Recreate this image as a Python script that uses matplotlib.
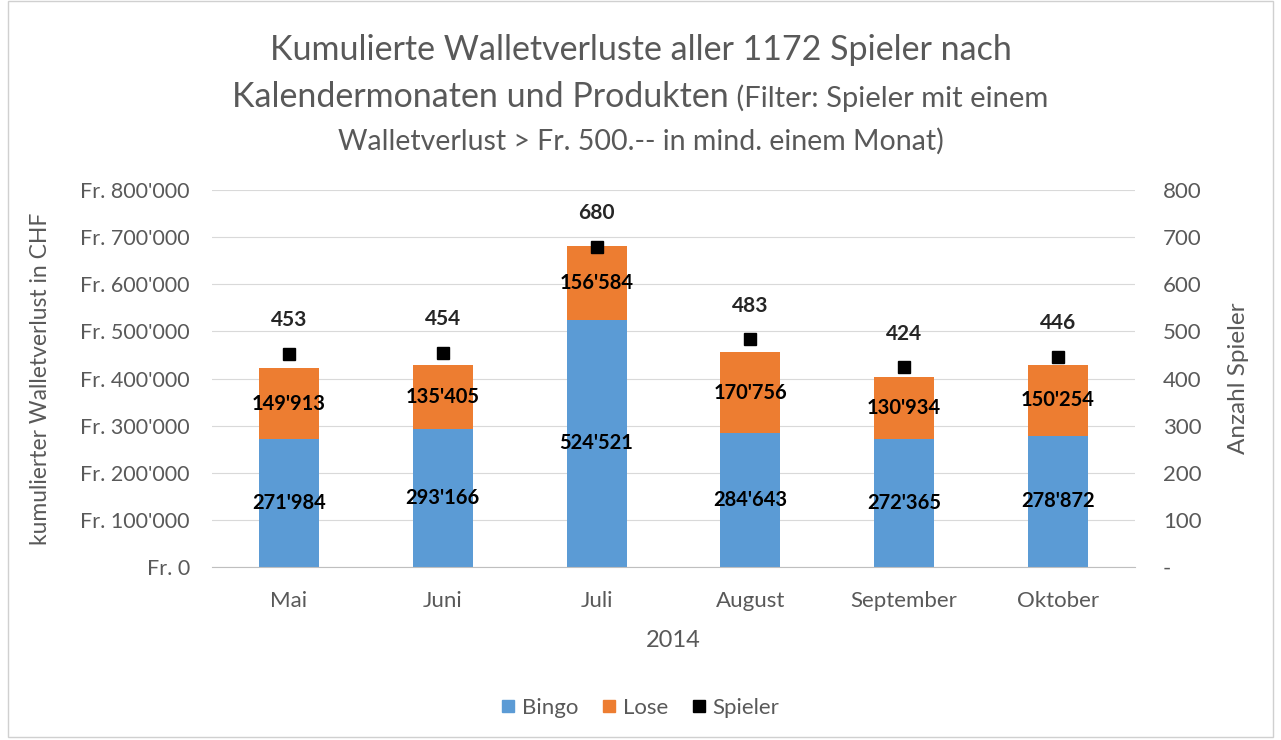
import matplotlib.pyplot as plt
from matplotlib.patches import Rectangle
from matplotlib.lines import Line2D
import numpy as np

plt.rcParams['font.family'] = ['Lato', 'DejaVu Sans']

months = ['Mai', 'Juni', 'Juli', 'August', 'September', 'Oktober']
bingo = [271984, 293166, 524521, 284643, 272365, 278872]
lose = [149913, 135405, 156584, 170756, 130934, 150254]
spieler = [453, 454, 680, 483, 424, 446]

blue = '#5B9BD5'
orange = '#ED7D31'
grey = '#595959'


def fmt(v):
    return f"{v:,}".replace(",", "'")


fig = plt.figure(figsize=(12.81, 7.40), dpi=100)
ax = fig.add_axes([0.1655, 0.2338, 0.7205, 0.5094])
ax2 = ax.twinx()

x = np.arange(len(months))
w = 0.39
ax.bar(x, bingo, w, color=blue, zorder=2)
ax.bar(x, lose, w, bottom=bingo, color=orange, zorder=2)

for i in range(len(months)):
    ax.text(x[i], bingo[i] / 2, fmt(bingo[i]), ha='center', va='center',
            fontsize=14.5, fontweight='bold', color='black', zorder=3)
    ax.text(x[i], bingo[i] + lose[i] / 2, fmt(lose[i]), ha='center', va='center',
            fontsize=14.5, fontweight='bold', color='black', zorder=3)

ax.set_xlim(-0.5, len(months) - 0.5)
ax.set_ylim(0, 800000)
ax.set_yticks(np.arange(0, 800001, 100000))
ax.set_yticklabels(['Fr. 0'] + ['Fr. ' + fmt(v) for v in range(100000, 800001, 100000)])
ax.grid(axis='y', color='#d9d9d9', lw=0.8, zorder=0)
ax.set_axisbelow(True)
ax.set_xticks(x)
ax.set_xticklabels(months)
ax.tick_params(axis='both', length=0, colors=grey)
ax.tick_params(axis='x', pad=17, labelsize=16)
ax.tick_params(axis='y', pad=16, labelsize=15.5)
for s in ['top', 'right', 'left']:
    ax.spines[s].set_visible(False)
ax.spines['bottom'].set_color('#bfbfbf')
ax.set_ylabel('kumulierter Walletverlust in CHF', fontsize=16.5, color=grey, labelpad=21)
ax.set_xlabel('2014', fontsize=17, color=grey, labelpad=14)

ax2.plot(x, spieler, 's', color='black', ms=9, zorder=4)
for i in range(len(months)):
    ax2.annotate(str(spieler[i]), (x[i], spieler[i]), xytext=(0, 17),
                 textcoords='offset points', ha='center', va='bottom',
                 fontsize=15, fontweight='bold', color='#262626')
ax2.set_ylim(0, 800)
ax2.set_yticks(np.arange(0, 801, 100))
ax2.set_yticklabels(['-'] + [str(v) for v in range(100, 801, 100)])
ax2.tick_params(axis='y', length=0, colors=grey, labelsize=16, pad=20)
for s in ax2.spines.values():
    s.set_visible(False)
ax2.set_ylabel('Anzahl Spieler', fontsize=17.5, color=grey, labelpad=19)

# title
fig.text(0.5, 1 - 50 / 740, 'Kumulierte Walletverluste aller 1172 Spieler nach',
         ha='center', va='center', fontsize=24.5, color=grey)
fig.canvas.draw()
r = fig.canvas.get_renderer()
t1 = fig.text(0, 1 - 97 / 740, 'Kalendermonaten und Produkten', ha='left', va='center',
              fontsize=24.5, color=grey)
t2 = fig.text(0, 1 - 98 / 740, ' (Filter: Spieler mit einem', ha='left', va='center',
              fontsize=21, color=grey)
w1 = t1.get_window_extent(r).width / fig.bbox.width
w2 = t2.get_window_extent(r).width / fig.bbox.width
x0 = 0.5 - (w1 + w2) / 2
t1.set_x(x0)
t2.set_x(x0 + w1)
fig.text(0.5, 1 - 141 / 740, 'Walletverlust > Fr. 500.-- in mind. einem Monat)',
         ha='center', va='center', fontsize=20.5, color=grey)

handles = [Line2D([], [], marker='s', ls='', color=blue, ms=9),
           Line2D([], [], marker='s', ls='', color=orange, ms=9),
           Line2D([], [], marker='s', ls='', color='black', ms=9)]
fig.legend(handles, ['Bingo', 'Lose', 'Spieler'], loc='center', ncol=3,
           bbox_to_anchor=(0.5, 1 - 708 / 740), frameon=False, fontsize=16,
           handlelength=0.6, handletextpad=0.3, columnspacing=1.1, labelcolor=grey)

fig.patches.append(Rectangle((0.006, 0.004), 0.988, 0.994, transform=fig.transFigure,
                             fill=False, ec='#d0d0d0', lw=1))

fig.savefig('out.png', dpi=100)
